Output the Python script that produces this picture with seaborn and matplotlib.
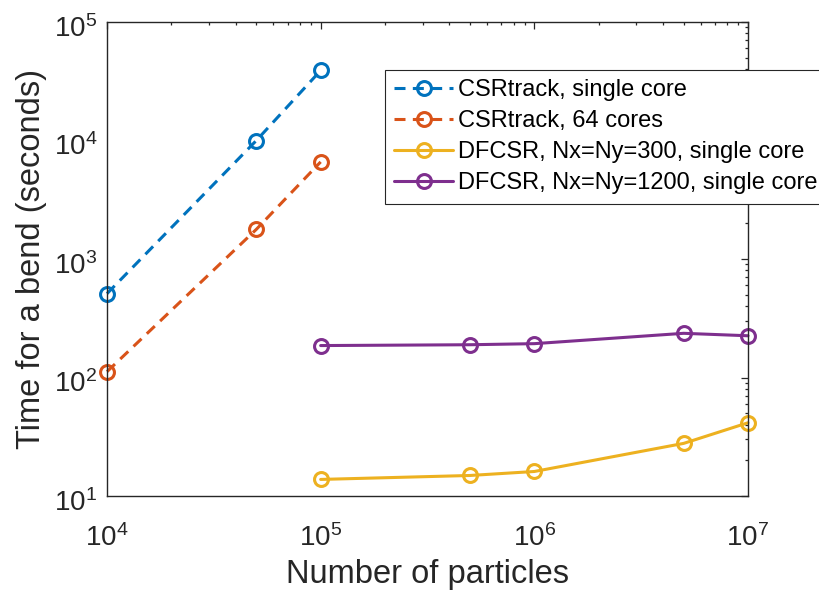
import matplotlib
matplotlib.use("Agg")
import matplotlib.pyplot as plt
import matplotlib.transforms as mtransforms
import seaborn as sns
import pandas as pd
import numpy as np
from matplotlib.ticker import LogLocator, NullFormatter

# ---- data ----
csr_x = [1e4, 5e4, 1e5]
csr_single_y = [510, 10000, 39000]
csr_64_y = [112, 1780, 6600]
df_x = [1e5, 5e5, 1e6, 5e6, 1e7]
df300_y = [13.8, 14.9, 16.1, 27.8, 41.5]
df1200_y = [186, 189, 193, 236, 225]

labels = ["CSRtrack, single core", "CSRtrack, 64 cores",
          "DFCSR, Nx=Ny=300, single core", "DFCSR, Nx=Ny=1200, single core"]
colors = ["#0072BD", "#D95319", "#EDB120", "#7E2F8E"]

sns.set_theme(style="white")
plt.rcParams["font.family"] = ["Liberation Sans", "DejaVu Sans"]
plt.rcParams["mathtext.fontset"] = "custom"
plt.rcParams["mathtext.rm"] = "Liberation Sans"
plt.rcParams["mathtext.it"] = "Liberation Sans:italic"
plt.rcParams["mathtext.bf"] = "Liberation Sans:bold"

text_c = "#262626"

fig = plt.figure(figsize=(8.2, 5.97), dpi=100)
ax = fig.add_axes([107/820, 1-496/597, (748-107)/820, (496-22)/597])

series = [(csr_x, csr_single_y, True), (csr_x, csr_64_y, True),
          (df_x, df300_y, False), (df_x, df1200_y, False)]
for (xs, ys, dashed), lab, c in zip(series, labels, colors):
    d = pd.DataFrame({"x": xs, "y": ys})
    sns.lineplot(data=d, x="x", y="y", ax=ax, color=c, label=lab,
                 marker="o", markersize=10, markerfacecolor="none",
                 markeredgecolor=c, markeredgewidth=2.2, linewidth=2.2,
                 clip_on=False)
    ln = ax.lines[-1]
    if dashed:
        ln.set_dashes((3.6, 2.4))

ax.set_xscale("log")
ax.set_yscale("log")
ax.set_xlim(1e4, 1e7)
ax.set_ylim(1e1, 1e5)

ax.xaxis.set_major_locator(LogLocator(base=10, numticks=10))
ax.yaxis.set_major_locator(LogLocator(base=10, numticks=10))
ax.xaxis.set_minor_locator(LogLocator(base=10, subs=np.arange(2, 10), numticks=100))
ax.yaxis.set_minor_locator(LogLocator(base=10, subs=np.arange(2, 10), numticks=100))
ax.xaxis.set_minor_formatter(NullFormatter())
ax.yaxis.set_minor_formatter(NullFormatter())

ax.tick_params(which="both", direction="in", top=True, right=True,
               color=text_c, width=0.9, labelcolor=text_c, labelsize=20)
ax.tick_params(which="major", length=4.8)
ax.tick_params(which="minor", length=2.5)
ax.tick_params(axis="x", which="major", pad=20)
ax.tick_params(axis="y", which="major", pad=7)

for s in ax.spines.values():
    s.set_visible(True)
    s.set_color(text_c)
    s.set_linewidth(1.0)

ax.set_xlabel("Number of particles", fontsize=23.5, color=text_c, labelpad=5)
ax.set_ylabel("Time for a bend (seconds)", fontsize=23.5, color=text_c, labelpad=5)

leg = ax.legend(loc="upper left", bbox_to_anchor=(385/820, 1-70/597),
                bbox_transform=fig.transFigure, fontsize=17, frameon=True,
                fancybox=False, framealpha=1, edgecolor="#262626",
                borderpad=0.4, labelspacing=0.38, handlelength=2.5,
                handletextpad=0.2, borderaxespad=0)
leg.get_frame().set_linewidth(0.8)
for t in leg.get_texts():
    t.set_color("black")

fig.canvas.draw()
off = mtransforms.ScaledTranslation(0, -4/100, fig.dpi_scale_trans)
for tk in ax.yaxis.get_major_ticks():
    tk.label1.set_transform(tk.label1.get_transform() + off)

fig.savefig("out.png", dpi=100)
